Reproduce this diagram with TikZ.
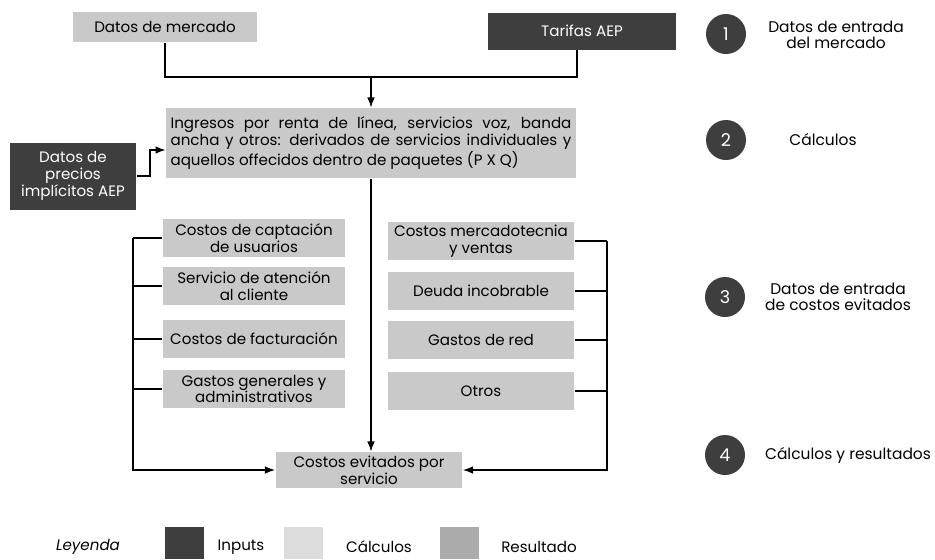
\documentclass[tikz,border=0pt]{standalone}
\usepackage{fontspec}
\setmainfont{Poppins}
\usetikzlibrary{arrows.meta,positioning}
\definecolor{inputgris}{HTML}{3E3E3E}
\definecolor{boxgris}{HTML}{C9C9C9}
\definecolor{calcgris}{HTML}{DCDCDC}
\definecolor{resgris}{HTML}{ABABAB}

\begin{document}
\begin{tikzpicture}[
				x=0.02cm,y=-0.02cm,
				font=\fontsize{8.6}{9.6}\selectfont,
				calc/.style={rectangle,fill=boxgris,inner sep=1pt,align=center},
				input/.style={rectangle,fill=inputgris,text=white,inner sep=1pt,align=center},
				colbox/.style={calc,minimum width=3.66cm,minimum height=0.76cm},
				paso/.style={circle,fill=inputgris,text=white,minimum size=0.8cm,inner sep=0pt,font=\fontsize{10}{10}\selectfont},
				pasotxt/.style={align=center,font=\fontsize{8.8}{8.8}\selectfont},
				leg/.style={rectangle,minimum width=0.78cm,minimum height=0.64cm,inner sep=0pt},
				line width=0.6pt
				]
				\useasboundingbox (0,0) rectangle (935,559);
				
				% Datos de entrada
				\node[calc,minimum width=3.7cm,minimum height=0.6cm] (mercado) at (165,27) {Datos de mercado};
				\node[input,minimum width=3.78cm,minimum height=0.74cm] (tarifas) at (582,31) {Tarifas AEP};
				\node[input,minimum width=2.54cm,minimum height=1.34cm] (precios) at (73,176) {Datos de\\precios\\implícitos AEP};
				
				% Ingresos
				\node[calc,minimum width=8.2cm,minimum height=1.4cm,text width=8.02cm,align=justify] (ingresos) at (371,143)
					{\hyphenpenalty=10000 Ingresos por renta de línea, servicios voz, banda\linebreak ancha y otros: derivados de servicios individuales y\linebreak aquellos offecidos dentro de paquetes (P X Q)};
				
				% Costos (izquierda)
				\node[colbox] (captacion) at (254,238) {Costos de captación\\de usuarios};
				\node[colbox] (atencion) at (254,286) {Servicio de atención\\al cliente};
				\node[colbox] (facturacion) at (254,339) {Costos de facturación};
				\node[colbox] (generales) at (254,389) {Gastos generales y\\administrativos};
				
				% Costos (derecha)
				\node[colbox,minimum width=3.74cm] (mercadotecnia) at (481,241) {Costos mercadotecnia\\y ventas};
				\node[colbox,minimum width=3.74cm] (deuda) at (481,291) {Deuda incobrable};
				\node[colbox,minimum width=3.74cm] (red) at (481,340) {Gastos de red};
				\node[colbox,minimum width=3.74cm] (otros) at (481,391) {Otros};
				
				% Resultado
				\node[calc,minimum width=3.74cm,minimum height=0.72cm] (evitados) at (369,470) {Costos evitados por\\servicio};
				
				% Conexiones
				\coordinate (busT) at (577,77);
				\coordinate (pj) at (150,150);
				\coordinate (busL) at (133,468);
				\coordinate (busR) at (607,468);
				\draw (mercado.south) |- (busT) -- (busT |- tarifas.south);
				\draw[-Latex] (ingresos.north |- busT) -- (ingresos.north);
				\draw[-Latex] (precios.east) -| (pj) -- (pj -| ingresos.west);
				\draw[-Latex] (ingresos.south) -- (ingresos.south |- evitados.north);
				\foreach \n in {captacion,atencion,facturacion,generales}
					\draw (\n.west) -- (\n.west -| busL);
				\foreach \n in {mercadotecnia,deuda,red,otros}
					\draw (\n.east) -- (\n.east -| busR);
				\draw[-Latex] (captacion.west -| busL) |- (evitados.west);
				\draw[-Latex] (mercadotecnia.east -| busR) |- (evitados.east);
				
				% Pasos
				\node[paso] (p1) at (726,34) {1};
				\node[paso] (p2) at (726,140) {2};
				\node[paso] (p3) at (725,297) {3};
				\node[paso] (p4) at (725,455) {4};
				\node[pasotxt] (t1) at (836,35) {Datos de entrada\\del mercado};
				\node[pasotxt] (t2) at (823,140) {Cálculos};
				\node[pasotxt] (t3) at (838,297) {Datos de entrada\\de costos evitados};
				\node[pasotxt] (t4) at (848,455) {Cálculos y resultados};
				
				% Leyenda
				\node (leyenda) at (88,547) {\itshape Leyenda};
				\node[leg,fill=inputgris] (linput) at (184,543) {};
				\node (tinput) at (241,547) {Inputs};
				\node[leg,fill=calcgris] (lcalc) at (303,543) {};
				\node (tcalc) at (379,547) {Cálculos};
				\node[leg,fill=resgris] (lres) at (459,543) {};
				\node (tres) at (539,547) {Resultado};
				
			\end{tikzpicture}
\end{document}
